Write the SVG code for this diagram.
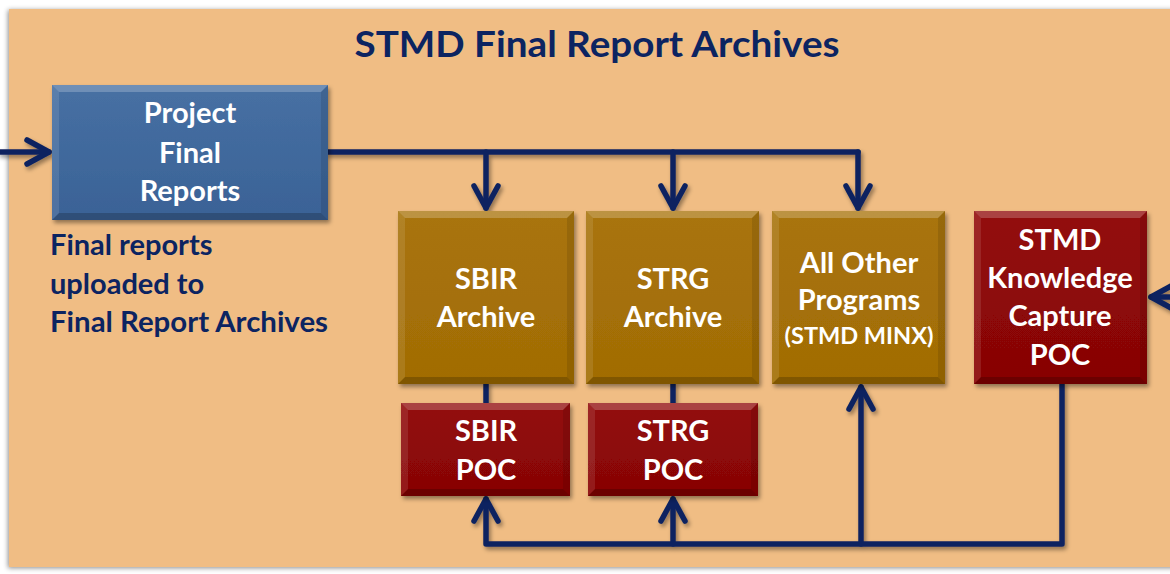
<svg xmlns="http://www.w3.org/2000/svg" width="1170" height="574" viewBox="0 0 1170 574">
<defs>
<filter id="sh" x="-10%" y="-10%" width="125%" height="130%">
<feDropShadow dx="2" dy="3" stdDeviation="2" flood-color="#000" flood-opacity="0.4"/>
</filter>
<filter id="psh" x="-5%" y="-5%" width="110%" height="110%">
<feDropShadow dx="-1" dy="1" stdDeviation="2.5" flood-color="#000" flood-opacity="0.45"/>
</filter>
<linearGradient id="gBlue" x1="0" y1="0" x2="0" y2="1"><stop offset="0" stop-color="#4770A3"/><stop offset="1" stop-color="#3A6296"/></linearGradient>
<linearGradient id="gGold" x1="0" y1="0" x2="0" y2="1"><stop offset="0" stop-color="#A9740A"/><stop offset="1" stop-color="#A16C05"/></linearGradient>
<linearGradient id="gRed" x1="0" y1="0" x2="0" y2="1"><stop offset="0" stop-color="#930A0A"/><stop offset="1" stop-color="#870505"/></linearGradient>
<marker id="arr" markerUnits="userSpaceOnUse" markerWidth="40" markerHeight="40" refX="0" refY="0" viewBox="-30 -20 40 40" orient="auto" overflow="visible">
<path d="M-22,-12 L0,0 L-22,12" fill="none" stroke="#0C2461" stroke-width="5.5" stroke-linecap="round" stroke-linejoin="round"/>
</marker>
<style>
text{font-family:Lato,"Open Sans","Liberation Sans",sans-serif;font-weight:700}
.nt{fill:#FFFFFF;font-size:29px;text-anchor:middle}
.lbl{fill:#0C2461;font-size:29px}
.ttl{fill:#0C2461;font-size:37px;text-anchor:middle}
.hi{fill:#FFFFFF;opacity:0.22}
.hl{fill:#FFFFFF;opacity:0.1}
.lo{fill:#000000;opacity:0.2}
.lr{fill:#000000;opacity:0.1}
.cn{fill:none;stroke:#0C2461;stroke-width:5.5;stroke-linecap:round;stroke-linejoin:round}
</style>
</defs>
<rect x="0" y="0" width="1170" height="574" fill="#FFFFFF"/>
<rect x="9" y="9" width="1175" height="558" fill="#F0BD84" filter="url(#psh)"/>
<text class="ttl" x="597" y="57" textLength="485" lengthAdjust="spacingAndGlyphs">STMD Final Report Archives</text>

<g id="connectors" filter="url(#sh)">
<path class="cn" d="M0,152 H49" marker-end="url(#arr)"/>
<path class="cn" d="M328,152 H858"/>
<path class="cn" d="M486,152 V208" marker-end="url(#arr)"/>
<path class="cn" d="M673,152 V208" marker-end="url(#arr)"/>
<path class="cn" d="M858,152 V208" marker-end="url(#arr)"/>
<path class="cn" d="M1172,297 H1151" marker-end="url(#arr)"/>
<path class="cn" d="M486,384 V403"/>
<path class="cn" d="M673,384 V403"/>
<path class="cn" d="M1062,384 V544 H486 V499" marker-end="url(#arr)"/>
<path class="cn" d="M673,544 V499" marker-end="url(#arr)"/>
<path class="cn" d="M861,544 V387" marker-end="url(#arr)"/>
</g>

<g id="project-final-reports">
<rect x="52" y="85" width="276" height="135" fill="url(#gBlue)" filter="url(#sh)"/>
<polygon class="hi" points="52,85 328,85 321,92 59,92"/>
<polygon class="lo" points="52,220 328,220 321,213 59,213"/>
<polygon class="hl" points="52,85 59,92 59,213 52,220"/>
<polygon class="lr" points="328,85 321,92 321,213 328,220"/>
<text class="nt" x="190" y="123">Project</text>
<text class="nt" x="190" y="163">Final</text>
<text class="nt" x="190" y="201">Reports</text>
</g>

<g id="upload-label">
<text class="lbl" x="50" y="255">Final reports</text>
<text class="lbl" x="50" y="294">uploaded to</text>
<text class="lbl" x="50" y="332" textLength="278" lengthAdjust="spacingAndGlyphs">Final Report Archives</text>
</g>

<g id="sbir-archive">
<rect x="398" y="211" width="176" height="173" fill="url(#gGold)" filter="url(#sh)"/>
<polygon class="hi" points="398,211 574,211 567,218 405,218"/>
<polygon class="lo" points="398,384 574,384 567,377 405,377"/>
<polygon class="hl" points="398,211 405,218 405,377 398,384"/>
<polygon class="lr" points="574,211 567,218 567,377 574,384"/>
<text class="nt" x="486" y="289">SBIR</text>
<text class="nt" x="486" y="327">Archive</text>
</g>

<g id="strg-archive">
<rect x="586" y="211" width="173" height="173" fill="url(#gGold)" filter="url(#sh)"/>
<polygon class="hi" points="586,211 759,211 752,218 593,218"/>
<polygon class="lo" points="586,384 759,384 752,377 593,377"/>
<polygon class="hl" points="586,211 593,218 593,377 586,384"/>
<polygon class="lr" points="759,211 752,218 752,377 759,384"/>
<text class="nt" x="673" y="289">STRG</text>
<text class="nt" x="673" y="327">Archive</text>
</g>

<g id="all-other-programs">
<rect x="772" y="211" width="173" height="173" fill="url(#gGold)" filter="url(#sh)"/>
<polygon class="hi" points="772,211 945,211 938,218 779,218"/>
<polygon class="lo" points="772,384 945,384 938,377 779,377"/>
<polygon class="hl" points="772,211 779,218 779,377 772,384"/>
<polygon class="lr" points="945,211 938,218 938,377 945,384"/>
<text class="nt" x="859" y="273">All Other</text>
<text class="nt" x="859" y="310">Programs</text>
<text class="nt" x="859" y="344" style="font-size:22px" textLength="149" lengthAdjust="spacingAndGlyphs">(STMD MINX)</text>
</g>

<g id="stmd-knowledge-capture-poc">
<rect x="974" y="211" width="173" height="173" fill="url(#gRed)" filter="url(#sh)"/>
<polygon class="hi" points="974,211 1147,211 1140,218 981,218"/>
<polygon class="lo" points="974,384 1147,384 1140,377 981,377"/>
<polygon class="hl" points="974,211 981,218 981,377 974,384"/>
<polygon class="lr" points="1147,211 1140,218 1140,377 1147,384"/>
<text class="nt" x="1060" y="250">STMD</text>
<text class="nt" x="1060" y="288">Knowledge</text>
<text class="nt" x="1060" y="326">Capture</text>
<text class="nt" x="1060" y="365">POC</text>
</g>

<g id="sbir-poc">
<rect x="401" y="403" width="169" height="93" fill="url(#gRed)" filter="url(#sh)"/>
<polygon class="hi" points="401,403 570,403 563,410 408,410"/>
<polygon class="lo" points="401,496 570,496 563,489 408,489"/>
<polygon class="hl" points="401,403 408,410 408,489 401,496"/>
<polygon class="lr" points="570,403 563,410 563,489 570,496"/>
<text class="nt" x="486" y="441">SBIR</text>
<text class="nt" x="486" y="480">POC</text>
</g>

<g id="strg-poc">
<rect x="588" y="403" width="170" height="93" fill="url(#gRed)" filter="url(#sh)"/>
<polygon class="hi" points="588,403 758,403 751,410 595,410"/>
<polygon class="lo" points="588,496 758,496 751,489 595,489"/>
<polygon class="hl" points="588,403 595,410 595,489 588,496"/>
<polygon class="lr" points="758,403 751,410 751,489 758,496"/>
<text class="nt" x="673" y="441">STRG</text>
<text class="nt" x="673" y="480">POC</text>
</g>
</svg>
